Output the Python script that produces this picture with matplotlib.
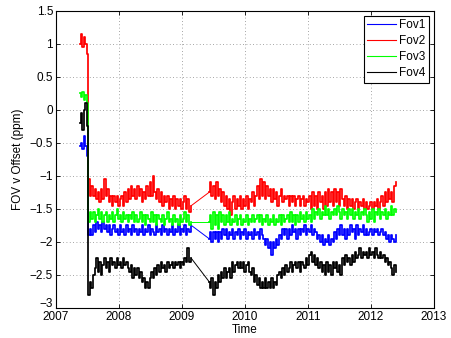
import matplotlib
matplotlib.use("Agg")
import matplotlib.pyplot as plt
from matplotlib.transforms import ScaledTranslation
import numpy as np

# Sampling: short commissioning run, then two operational periods
# separated by an outage in early 2009.
T0_INIT, T0_B, T0_C = 2007.38, 2007.525, 2009.43
STEP = 0.025

FOV1_INIT = [-0.55, -0.5, -0.6, -0.4, -0.55, -0.7]
FOV1_B = [
    -1.9, -1.8, -1.9, -1.75, -1.85, -1.7, -1.8, -1.75, -1.85, -1.7,
    -1.8, -1.75, -1.85, -1.75, -1.9, -1.8, -1.75, -1.85, -1.8, -1.9,
    -1.75, -1.85, -1.8, -1.9, -1.75, -1.85, -1.8, -1.9, -1.75, -1.85,
    -1.8, -1.9, -1.8, -1.85, -1.75, -1.9, -1.8, -1.85, -1.75, -1.9,
    -1.8, -1.85, -1.9, -1.75, -1.85, -1.8, -1.9, -1.75, -1.85, -1.8,
    -1.9, -1.8, -1.85, -1.75, -1.9, -1.8, -1.85, -1.75, -1.9, -1.8,
    -1.85, -1.75, -1.9, -1.8, -1.85, -1.75,
]
FOV1_C = [
    -1.95, -1.85, -2.0, -1.85, -1.95, -1.85, -2.0, -1.85, -1.95, -1.8,
    -1.9, -1.8, -1.95, -1.85, -1.9, -1.8, -1.95, -1.85, -1.9, -1.8,
    -1.95, -1.85, -1.9, -1.8, -1.95, -1.85, -1.9, -1.85, -1.95, -1.8,
    -1.9, -1.85, -1.95, -1.8, -1.9, -1.95, -2.05, -1.95, -2.1, -2.0,
    -2.2, -2.0, -2.1, -1.95, -2.05, -1.9, -1.95, -1.8, -1.9, -1.8,
    -1.95, -1.8, -1.9, -1.75, -1.85, -1.8, -1.95, -1.8, -1.9, -1.8,
    -1.85, -1.75, -1.9, -1.8, -1.85, -1.75, -1.9, -1.8, -1.85, -1.95,
    -1.9, -2.0, -1.9, -2.05, -1.95, -2.0, -1.9, -2.05, -1.95, -2.0,
    -1.85, -1.95, -1.8, -1.9, -1.75, -1.9, -1.8, -1.95, -1.8, -1.9,
    -1.75, -1.85, -1.8, -1.95, -1.75, -1.9, -1.8, -1.85, -1.75, -1.9,
    -1.8, -1.9, -1.85, -1.8, -1.9, -1.8, -1.85, -1.8, -1.9, -1.85,
    -1.8, -1.9, -1.85, -1.95, -1.9, -2.0, -1.9, -1.95, -2.0, -1.9,
]

FOV2_INIT = [1.0, 1.15, 0.95, 1.1, 1.0, 0.85]
FOV2_B = [
    -1.05, -1.3, -1.15, -1.3, -1.2, -1.35, -1.25, -1.4, -1.2, -1.35,
    -1.05, -1.3, -1.2, -1.4, -1.3, -1.45, -1.3, -1.4, -1.3, -1.45,
    -1.35, -1.3, -1.45, -1.25, -1.4, -1.2, -1.35, -1.15, -1.3, -1.2,
    -1.35, -1.15, -1.3, -1.2, -1.4, -1.25, -1.35, -1.15, -1.3, -1.1,
    -1.3, -1.0, -1.25, -1.35, -1.2, -1.4, -1.25, -1.45, -1.3, -1.4,
    -1.3, -1.5, -1.35, -1.45, -1.3, -1.5, -1.35, -1.45, -1.35, -1.5,
    -1.4, -1.3, -1.5, -1.35, -1.55, -1.45,
]
FOV2_C = [
    -1.25, -1.1, -1.3, -1.15, -1.35, -1.1, -1.3, -1.2, -1.4, -1.25,
    -1.45, -1.3, -1.5, -1.35, -1.6, -1.4, -1.3, -1.5, -1.35, -1.45,
    -1.3, -1.5, -1.35, -1.45, -1.3, -1.5, -1.35, -1.4, -1.25, -1.45,
    -1.3, -1.15, -1.35, -1.05, -1.3, -1.1, -1.35, -1.15, -1.3, -1.2,
    -1.4, -1.2, -1.35, -1.25, -1.45, -1.3, -1.2, -1.4, -1.3, -1.35,
    -1.3, -1.45, -1.3, -1.4, -1.3, -1.45, -1.35, -1.3, -1.45, -1.35,
    -1.3, -1.45, -1.35, -1.4, -1.3, -1.5, -1.25, -1.45, -1.3, -1.5,
    -1.25, -1.4, -1.3, -1.5, -1.25, -1.45, -1.2, -1.4, -1.25, -1.45,
    -1.2, -1.4, -1.25, -1.45, -1.2, -1.35, -1.45, -1.3, -1.5, -1.35,
    -1.45, -1.35, -1.5, -1.4, -1.35, -1.5, -1.4, -1.45, -1.35, -1.5,
    -1.4, -1.5, -1.45, -1.4, -1.5, -1.4, -1.45, -1.35, -1.5, -1.4,
    -1.3, -1.45, -1.25, -1.4, -1.2, -1.35, -1.25, -1.4, -1.15, -1.1,
]

FOV3_INIT = [0.25, 0.2, 0.27, 0.15, 0.22, 0.1]
FOV3_B = [
    -1.7, -1.55, -1.65, -1.55, -1.7, -1.6, -1.5, -1.65, -1.55, -1.7,
    -1.6, -1.55, -1.7, -1.6, -1.65, -1.55, -1.7, -1.6, -1.5, -1.65,
    -1.6, -1.7, -1.55, -1.65, -1.6, -1.7, -1.6, -1.65, -1.55, -1.7,
    -1.6, -1.7, -1.65, -1.55, -1.7, -1.6, -1.75, -1.6, -1.65, -1.7,
    -1.55, -1.7, -1.6, -1.75, -1.6, -1.65, -1.7, -1.6, -1.75, -1.65,
    -1.55, -1.7, -1.65, -1.75, -1.6, -1.7, -1.65, -1.75, -1.6, -1.7,
    -1.65, -1.55, -1.7, -1.6, -1.75, -1.7,
]
FOV3_C = [
    -1.7, -1.6, -1.8, -1.55, -1.75, -1.6, -1.8, -1.55, -1.7, -1.6,
    -1.75, -1.6, -1.7, -1.55, -1.75, -1.65, -1.7, -1.6, -1.75, -1.65,
    -1.6, -1.75, -1.65, -1.7, -1.6, -1.75, -1.65, -1.7, -1.6, -1.7,
    -1.65, -1.6, -1.7, -1.6, -1.75, -1.65, -1.7, -1.6, -1.75, -1.65,
    -1.7, -1.6, -1.75, -1.65, -1.7, -1.6, -1.75, -1.6, -1.7, -1.65,
    -1.6, -1.7, -1.55, -1.7, -1.6, -1.75, -1.6, -1.7, -1.55, -1.65,
    -1.6, -1.7, -1.55, -1.65, -1.6, -1.7, -1.5, -1.65, -1.55, -1.6,
    -1.5, -1.65, -1.55, -1.6, -1.45, -1.6, -1.5, -1.65, -1.55, -1.6,
    -1.5, -1.6, -1.45, -1.55, -1.65, -1.5, -1.6, -1.55, -1.65, -1.5,
    -1.6, -1.5, -1.65, -1.55, -1.6, -1.5, -1.65, -1.55, -1.6, -1.5,
    -1.6, -1.7, -1.55, -1.65, -1.5, -1.7, -1.55, -1.6, -1.5, -1.65,
    -1.55, -1.6, -1.5, -1.65, -1.55, -1.6, -1.45, -1.6, -1.5, -1.55,
]

FOV4_INIT = [-0.2, -0.05, -0.3, 0.0, 0.1, -0.25]
FOV4_B = [
    -2.8, -2.6, -2.7, -2.5, -2.4, -2.25, -2.45, -2.3, -2.5, -2.35,
    -2.25, -2.4, -2.3, -2.45, -2.25, -2.35, -2.3, -2.4, -2.25, -2.35,
    -2.3, -2.4, -2.25, -2.35, -2.3, -2.4, -2.45, -2.35, -2.55, -2.4,
    -2.5, -2.4, -2.55, -2.45, -2.6, -2.55, -2.7, -2.6, -2.7, -2.55,
    -2.45, -2.55, -2.4, -2.5, -2.35, -2.45, -2.3, -2.4, -2.35, -2.45,
    -2.3, -2.4, -2.35, -2.3, -2.4, -2.3, -2.35, -2.3, -2.4, -2.3,
    -2.35, -2.25, -2.3, -2.1, -2.3, -2.25,
]
FOV4_C = [
    -2.6, -2.7, -2.55, -2.8, -2.6, -2.7, -2.5, -2.6, -2.45, -2.55,
    -2.4, -2.55, -2.45, -2.4, -2.55, -2.3, -2.45, -2.35, -2.3, -2.4,
    -2.3, -2.4, -2.3, -2.45, -2.35, -2.3, -2.45, -2.5, -2.4, -2.6,
    -2.5, -2.65, -2.55, -2.7, -2.6, -2.7, -2.55, -2.7, -2.6, -2.7,
    -2.55, -2.7, -2.6, -2.65, -2.5, -2.45, -2.55, -2.4, -2.5, -2.35,
    -2.45, -2.4, -2.3, -2.45, -2.35, -2.3, -2.4, -2.3, -2.45, -2.3,
    -2.35, -2.4, -2.25, -2.35, -2.2, -2.15, -2.3, -2.2, -2.35, -2.25,
    -2.4, -2.3, -2.45, -2.35, -2.5, -2.3, -2.45, -2.35, -2.5, -2.3,
    -2.4, -2.3, -2.45, -2.35, -2.5, -2.25, -2.35, -2.2, -2.3, -2.25,
    -2.35, -2.2, -2.3, -2.15, -2.25, -2.2, -2.1, -2.25, -2.15, -2.2,
    -2.15, -2.25, -2.1, -2.2, -2.15, -2.25, -2.1, -2.2, -2.25, -2.15,
    -2.25, -2.2, -2.3, -2.25, -2.35, -2.3, -2.4, -2.5, -2.35, -2.45,
]

LABELS = ["Fov1", "Fov2", "Fov3", "Fov4"]
COLORS = ["#0000FF", "#FF0000", "#00FF00", "#000000"]
SERIES = [
    (FOV1_INIT, FOV1_B, FOV1_C),
    (FOV2_INIT, FOV2_B, FOV2_C),
    (FOV3_INIT, FOV3_B, FOV3_C),
    (FOV4_INIT, FOV4_B, FOV4_C),
]
LW = 1.25

plt.rcParams["font.family"] = ["Liberation Sans", "DejaVu Sans"]

fig = plt.figure(figsize=(4.51, 3.38), dpi=100)
ax = fig.add_axes([0.124, 0.089, 0.838, 0.879])

for label, color, (init, seg_b, seg_c) in zip(LABELS, COLORS, SERIES):
    t_first = np.concatenate([T0_INIT + STEP * np.arange(len(init)),
                              T0_B + STEP * np.arange(len(seg_b))])
    y_first = np.concatenate([init, seg_b])
    t_second = T0_C + STEP * np.arange(len(seg_c))
    y_second = np.asarray(seg_c)

    ax.plot(t_first, y_first, color=color, linewidth=LW,
            drawstyle="steps-mid", label=label)
    # straight joining line across the 2009 outage
    ax.plot([t_first[-1], t_second[0]], [y_first[-1], y_second[0]],
            color=color, linewidth=0.7)
    ax.plot(t_second, y_second, color=color, linewidth=LW,
            drawstyle="steps-mid")

ax.set_xlim(2007, 2013)
ax.set_ylim(-3, 1.5)
ax.set_xticks(np.arange(2007, 2014, 1))
ax.set_yticks(np.arange(-3, 1.51, 0.5))
ax.set_yticklabels(["\u22123", "\u22122.5", "\u22122", "\u22121.5", "\u22121",
                    "\u22120.5", "0", "0.5", "1", "1.5"])
ax.tick_params(direction="in", length=3, labelsize=8.5, top=True, right=True,
               pad=2, width=0.6)
# lift the bottom y label clear of the first year label
bottom_label = ax.get_yticklabels()[0]
bottom_label.set_transform(bottom_label.get_transform()
                           + ScaledTranslation(0, 4 / 72, fig.dpi_scale_trans))

ax.grid(True, linestyle=(0, (1, 3)), color="#888888", linewidth=0.6)
for spine in ax.spines.values():
    spine.set_linewidth(0.8)

ax.set_xlabel("Time", fontsize=8.5, labelpad=1)
ax.set_ylabel("FOV v Offset (ppm)", fontsize=8.5, labelpad=4)

leg = ax.legend(loc="upper right", fontsize=8.5, fancybox=False,
                framealpha=1, edgecolor="black", handlelength=2.4,
                handletextpad=0.3, borderpad=0.3, labelspacing=0.35,
                borderaxespad=0.4)
leg.get_frame().set_linewidth(0.8)
for line in leg.get_lines():
    line.set_linewidth(0.8)

fig.savefig("out.png", dpi=100)
